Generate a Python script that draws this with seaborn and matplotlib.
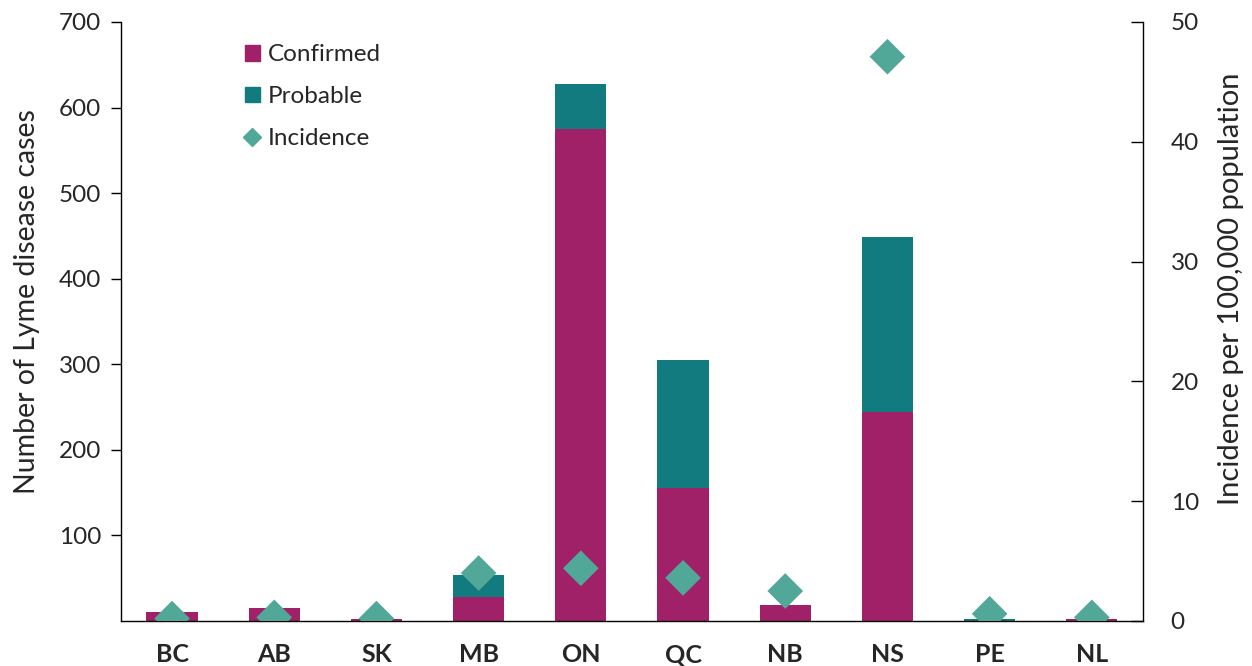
import numpy as np
import pandas as pd
import matplotlib
matplotlib.use("Agg")
import matplotlib.pyplot as plt
from matplotlib.patches import Patch
from matplotlib.lines import Line2D
import seaborn as sns

# data
provinces = ["BC", "AB", "SK", "MB", "ON", "QC", "NB", "NS", "PE", "NL"]
confirmed = [10, 15, 2, 28, 575, 155, 19, 244, 0, 2]
probable = [0, 0, 0, 26, 52, 150, 0, 205, 2, 0]
incidence = [0.2, 0.3, 0.2, 4.0, 4.4, 3.6, 2.5, 47.1, 0.6, 0.3]

c_conf = "#A12168"
c_prob = "#117B80"
c_inc = "#52A898"

df = pd.DataFrame({"prov": provinces, "confirmed": confirmed,
                   "probable": probable, "incidence": incidence})
df["total"] = df["confirmed"] + df["probable"]

sns.set_theme(style="white")
plt.rcParams["font.family"] = ["Lato", "DejaVu Sans"]

fig = plt.figure(figsize=(12.52, 6.66), dpi=100)
ax = fig.add_axes([0.0966, 0.0676, 0.8163, 0.8994])

# stacked bars: total in teal, confirmed drawn over it in magenta
sns.barplot(data=df, x="prov", y="total", color=c_prob, width=0.5,
            saturation=1, linewidth=0, ax=ax, order=provinces)
sns.barplot(data=df, x="prov", y="confirmed", color=c_conf, width=0.5,
            saturation=1, linewidth=0, ax=ax, order=provinces)

ax.set_ylim(0, 700)
ax.set_xlim(-0.5, len(provinces) - 0.5)
ax.set_yticks([100, 200, 300, 400, 500, 600, 700])
ax.set_ylabel("Number of Lyme disease cases", fontsize=20.5)
ax.yaxis.set_label_coords(-0.079, 0.533)
ax.set_xlabel("")
ax.tick_params(axis="y", direction="out", length=7, width=1, labelsize=17.5,
               left=True, color="black", pad=7)
ax.tick_params(axis="x", bottom=False, labelsize=18, pad=10)
for lbl in ax.get_xticklabels():
    lbl.set_fontweight("bold")
for s in ["top", "right"]:
    ax.spines[s].set_visible(False)
for s in ["left", "bottom"]:
    ax.spines[s].set_color("black")
    ax.spines[s].set_linewidth(1)

ax2 = ax.twinx()
sns.scatterplot(x=np.arange(len(provinces)), y=df["incidence"], ax=ax2,
                marker="D", s=330, color=c_inc, edgecolor="none", zorder=5)
ax2.set_ylim(0, 50)
ax2.set_yticks([0, 10, 20, 30, 40, 50])
ax2.set_ylabel("Incidence per 100,000 population", fontsize=21)
ax2.yaxis.set_label_coords(1.073, 0.554)
ax2.tick_params(axis="y", direction="in", length=9, width=1, labelsize=17.5,
                right=True, color="black", pad=20)
for s in ["top", "left", "bottom"]:
    ax2.spines[s].set_visible(False)
ax2.spines["right"].set_color("black")
ax2.spines["right"].set_linewidth(1)

handles = [Patch(color=c_conf, label="Confirmed"),
           Patch(color=c_prob, label="Probable"),
           Line2D([], [], marker="D", color=c_inc, linestyle="none",
                  markersize=9, label="Incidence")]
ax2.legend(handles=handles, loc="upper left", bbox_to_anchor=(0.1, 0.999),
           frameon=False, fontsize=17.5, handlelength=0.6, handleheight=0.6,
           handletextpad=0.35, labelspacing=0.85)

fig.savefig("out.png", dpi=100)
